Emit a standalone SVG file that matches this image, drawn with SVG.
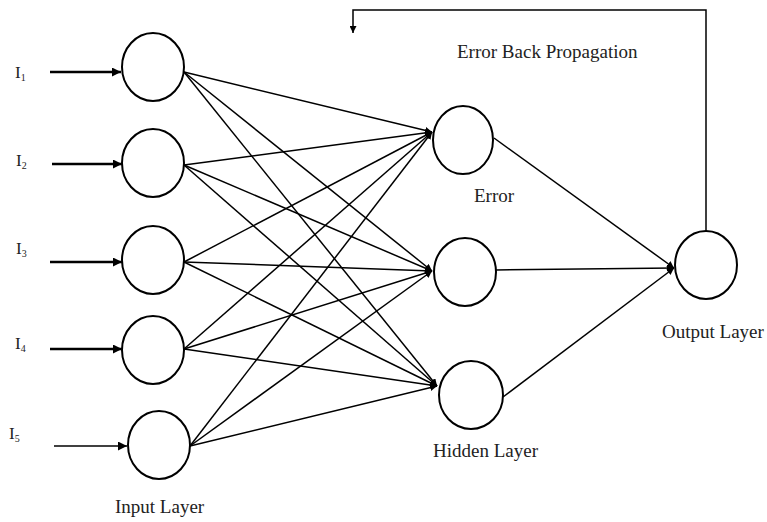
<svg xmlns="http://www.w3.org/2000/svg" width="767" height="522" viewBox="0 0 767 522">
<defs>
<marker id="ah" viewBox="0 0 10 10" refX="10" refY="5" markerWidth="7" markerHeight="7" markerUnits="userSpaceOnUse" orient="auto"><path d="M0,0 L10,5 L0,10 z" fill="#000"/></marker>
<marker id="ah2" viewBox="0 0 10 10" refX="10" refY="5" markerWidth="9" markerHeight="9" markerUnits="userSpaceOnUse" orient="auto"><path d="M0,0 L10,5 L0,10 z" fill="#000"/></marker>
</defs>
<style>
.n{fill:#fff;stroke:#000;stroke-width:2}
.c{stroke:#000;stroke-width:1.5;fill:none}
.in{stroke:#000;stroke-width:2.5;fill:none}
.t{font-family:"Liberation Serif","Times New Roman",serif;font-size:19px;fill:#222}
.s{font-family:"Liberation Serif","Times New Roman",serif;font-size:17px;fill:#222}
</style>
<rect width="767" height="522" fill="#fff"/>
<g id="connectors">
<line class="in" x1="50" y1="72" x2="121" y2="72" marker-end="url(#ah2)"/>
<line class="in" x1="52" y1="164" x2="122" y2="164" marker-end="url(#ah2)"/>
<line class="in" x1="50" y1="262" x2="122" y2="262" marker-end="url(#ah2)"/>
<line class="in" x1="50" y1="349" x2="122" y2="349" marker-end="url(#ah2)"/>
<line class="c" x1="54" y1="446" x2="127" y2="446" marker-end="url(#ah2)"/>
<g marker-end="url(#ah)">
<line class="c" x1="184" y1="72" x2="432" y2="132"/>
<line class="c" x1="184" y1="72" x2="432" y2="271"/>
<line class="c" x1="184" y1="72" x2="437" y2="386"/>
<line class="c" x1="184" y1="165" x2="432" y2="132"/>
<line class="c" x1="184" y1="165" x2="432" y2="271"/>
<line class="c" x1="184" y1="165" x2="437" y2="386"/>
<line class="c" x1="184" y1="262" x2="432" y2="132"/>
<line class="c" x1="184" y1="262" x2="432" y2="271"/>
<line class="c" x1="184" y1="262" x2="437" y2="386"/>
<line class="c" x1="184" y1="349" x2="432" y2="132"/>
<line class="c" x1="184" y1="349" x2="432" y2="271"/>
<line class="c" x1="184" y1="349" x2="437" y2="386"/>
<line class="c" x1="190" y1="446" x2="432" y2="132"/>
<line class="c" x1="190" y1="446" x2="432" y2="271"/>
<line class="c" x1="190" y1="446" x2="437" y2="386"/>
<line class="c" x1="494" y1="138" x2="674" y2="268"/>
<line class="c" x1="496" y1="270" x2="674" y2="268"/>
<line class="c" x1="503" y1="397" x2="674" y2="268"/>
</g>
<path class="c" d="M706,231 V10 H353 V33" stroke-width="2" marker-end="url(#ah)"/>
</g>
<g id="input1"><ellipse class="n" cx="153" cy="67" rx="31" ry="34"/></g>
<g id="input2"><ellipse class="n" cx="153" cy="163" rx="31" ry="34"/></g>
<g id="input3"><ellipse class="n" cx="153" cy="260" rx="31" ry="34"/></g>
<g id="input4"><ellipse class="n" cx="153" cy="350" rx="31" ry="34"/></g>
<g id="input5"><ellipse class="n" cx="159" cy="445" rx="31" ry="34"/></g>
<g id="hidden1"><ellipse class="n" cx="463" cy="140" rx="30" ry="34"/></g>
<g id="hidden2"><ellipse class="n" cx="465" cy="272" rx="31" ry="34"/></g>
<g id="hidden3"><ellipse class="n" cx="471" cy="395" rx="32" ry="34"/></g>
<g id="output"><ellipse class="n" cx="706" cy="265" rx="31" ry="34"/></g>
<g id="labels">
<text class="s" x="15" y="78">I<tspan font-size="10" dy="3">1</tspan></text>
<text class="s" x="16" y="166">I<tspan font-size="10" dy="3">2</tspan></text>
<text class="s" x="16" y="254">I<tspan font-size="10" dy="3">3</tspan></text>
<text class="s" x="15" y="349">I<tspan font-size="10" dy="3">4</tspan></text>
<text class="s" x="9" y="439">I<tspan font-size="10" dy="3">5</tspan></text>
<text class="t" x="115" y="513">Input Layer</text>
<text class="t" x="474" y="202">Error</text>
<text class="t" x="433" y="457">Hidden Layer</text>
<text class="t" x="662" y="338">Output Layer</text>
<text class="t" x="457" y="58">Error Back Propagation</text>
</g>
</svg>
